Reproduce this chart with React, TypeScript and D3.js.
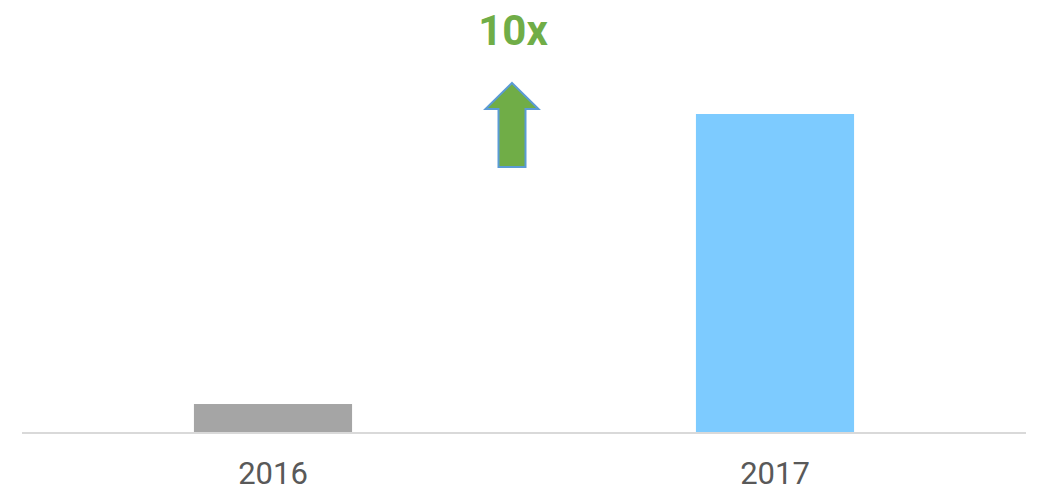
import React from 'react';
import * as d3 from 'd3';

const categories = ['2016', '2017'];
const values = [88, 1000];
const barColors = ['#A5A5A5', '#7DCBFF'];
const growthLabel = '10x';

const W = 1041;
const H = 487;

export default function App() {
  const x = d3
    .scaleBand<string>()
    .domain(categories)
    .range([22, 1026])
    .paddingInner(0.685)
    .paddingOuter(0.3425);
  const y = d3.scaleLinear().domain([0, 1000]).range([432, 114]);

  // up arrow shape
  const ax = 512;
  const arrow = d3.path();
  arrow.moveTo(ax, 83);
  arrow.lineTo(ax + 26.5, 109);
  arrow.lineTo(ax + 13.5, 109);
  arrow.lineTo(ax + 13.5, 167);
  arrow.lineTo(ax - 13.5, 167);
  arrow.lineTo(ax - 13.5, 109);
  arrow.lineTo(ax - 26.5, 109);
  arrow.closePath();

  return (
    <svg
      width={W}
      height={H}
      viewBox={`0 0 ${W} ${H}`}
      style={{ position: 'absolute', left: 0, top: 0, background: '#fff' }}
      fontFamily="Roboto, sans-serif"
    >
      {categories.map((c, i) => (
        <rect
          key={c}
          x={x(c)}
          y={y(values[i])}
          width={x.bandwidth()}
          height={y(0) - y(values[i])}
          fill={barColors[i]}
        />
      ))}
      <line x1={22} x2={1026} y1={433} y2={433} stroke="#D9D9D9" strokeWidth={2} />
      {categories.map((c) => (
        <text
          key={c}
          x={(x(c) as number) + x.bandwidth() / 2}
          y={484}
          textAnchor="middle"
          fontSize={31}
          fill="#595959"
        >
          {c}
        </text>
      ))}
      <path d={arrow.toString()} fill="#70AD47" stroke="#5B9BD5" strokeWidth={2} />
      <text x={513} y={45} textAnchor="middle" fontSize={42} fontWeight="bold" fill="#70AD47">
        {growthLabel}
      </text>
    </svg>
  );
}
